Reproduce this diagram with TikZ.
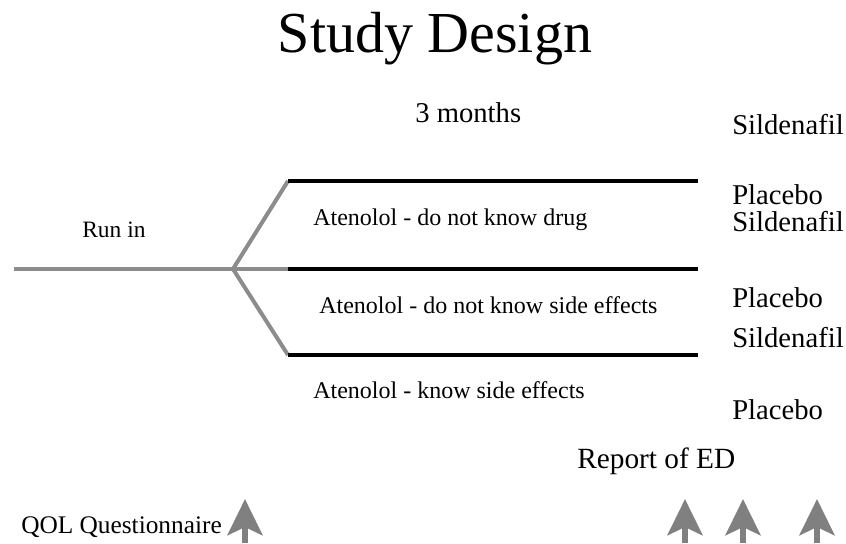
\documentclass[tikz,border=0pt]{standalone}
\usepackage{fontspec}
\setmainfont{Liberation Serif}
\usetikzlibrary{arrows.meta}

\begin{document}
\begin{tikzpicture}[
x=0.75pt, y=-0.75pt,
title/.style={font=\fontsize{43.5}{50}\selectfont, anchor=base},
lbl/.style={font=\fontsize{21.5}{25}\selectfont, anchor=base west, inner sep=0pt},
arm/.style={font=\fontsize{18}{22}\selectfont, anchor=base west, inner sep=0pt},
note/.style={font=\fontsize{19}{23}\selectfont, anchor=base west, inner sep=0pt},
runin/.style={line width=3pt, draw={rgb,255:red,140;green,140;blue,140}, line join=round},
armline/.style={line width=3.3pt, draw=black},
uparrow/.style={line width=5.2pt, draw={rgb,255:red,128;green,128;blue,128},
  -{Stealth[length=27pt, width=26pt, inset=6pt, fill={rgb,255:red,128;green,128;blue,128}]}} ]

\useasboundingbox (0,0) rectangle (846,543);

\node[title](T) at (435,52) {Study Design};
\node[lbl](M) at (415,122) {3 months};
\node[note, font=\fontsize{17.6}{21}\selectfont](R) at (82,237) {Run in};

% run in and the three arms
\coordinate (s) at (14,269);
\coordinate (b) at (233,269);
\coordinate (u0) at (288,181);
\coordinate (m0) at (288,269);
\coordinate (d0) at (288,355);
\coordinate (u1) at (698,181);
\coordinate (m1) at (698,269);
\coordinate (d1) at (698,355);

\draw[runin] (s) -- (b) -- (m0);
\draw[runin] (b) -- (u0);
\draw[runin] (b) -- (d0);
\draw[armline] (u0) -- (u1);
\draw[armline] (m0) -- (m1);
\draw[armline] (d0) -- (d1);

\node[arm](A1) at (313,225) {Atenolol - do not know drug};
\node[arm](A2) at (319,313) {Atenolol - do not know side effects};
\node[arm](A3) at (313,398) {Atenolol - know side effects};

\node[lbl](S1) at (732,134) {Sildenafil};
\node[lbl](P1) at (732,204) {Placebo};
\node[lbl](S2) at (732,231) {Sildenafil};
\node[lbl](P2) at (732,307) {Placebo};
\node[lbl](S3) at (732,347) {Sildenafil};
\node[lbl](P3) at (732,419) {Placebo};

\node[lbl, font=\fontsize{22}{26}\selectfont](E) at (577,468) {Report of ED};
\node[note](Q) at (21,533) {QOL Questionnaire};

% arrows from the bottom edge
\foreach \n/\x in {q/245, e1/685, e2/743, e3/817}{
  \coordinate (\n0) at (\x,543);
  \coordinate (\n1) at (\x,499);
  \draw[uparrow] (\n0) -- (\n1);
}
\end{tikzpicture}
\end{document}
